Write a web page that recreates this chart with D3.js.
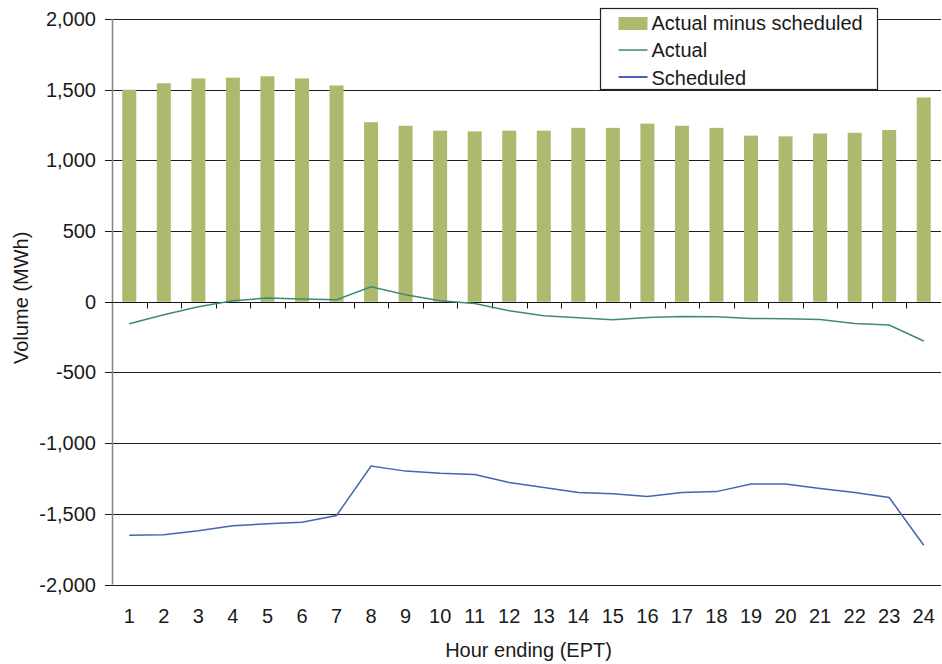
<!DOCTYPE html>
<html>
<head>
<meta charset="utf-8">
<script src="https://cdn.jsdelivr.net/npm/d3@7"></script>
<style>
  html, body { margin: 0; padding: 0; background: #fff; }
  svg { display: block; font-family: "Liberation Sans", Arial, sans-serif; }
</style>
</head>
<body>
<svg id="chart" width="942" height="664"></svg>
<script>
// Hourly volumes (MWh) by hour ending, EPT
const hours = d3.range(1, 25);
const actualMinusScheduled = [1500, 1545, 1580, 1585, 1595, 1580, 1530, 1270, 1245, 1210, 1205, 1210,
                              1210, 1230, 1230, 1260, 1245, 1230, 1175, 1170, 1190, 1195, 1215, 1445];
const actual = [-155, -92, -35, 7, 26, 20, 15, 106, 50, 7, -12, -64,
                -99, -113, -127, -111, -104, -106, -118, -120, -125, -153, -165, -278];
const scheduled = [-1652, -1648, -1620, -1585, -1570, -1560, -1512, -1162, -1198, -1213, -1222, -1279,
                   -1314, -1350, -1358, -1378, -1350, -1343, -1290, -1290, -1321, -1350, -1385, -1722];
const yTicks = [-2000, -1500, -1000, -500, 0, 500, 1000, 1500, 2000];
const legendItems = ["Actual minus scheduled", "Actual", "Scheduled"];

const colors = { bar: "#adba6e", actual: "#3f8b70", scheduled: "#4465b2" };

const svg = d3.select("#chart");
const margin = { left: 112, right: 1 };
const W = 942;
const xBand = d3.scaleBand().domain(hours).range([margin.left, W - margin.right]);
const y = d3.scaleLinear().domain([-2000, 2000]).range([584.5, 19]);
// thousands separator with a plain hyphen for negatives
const fmt = d => (d < 0 ? "-" : "") + d3.format(",")(Math.abs(d));
const FS = 20;

// Horizontal gridlines with outward tick marks on the value axis
svg.append("g").selectAll("line").data(yTicks).join("line")
  .attr("x1", margin.left - 7).attr("x2", W - margin.right)
  .attr("y1", d => Math.round(y(d)) + 0.5).attr("y2", d => Math.round(y(d)) + 0.5)
  .attr("stroke", "#1e1e1e").attr("stroke-width", 1.2);

// Value axis labels
svg.append("g").selectAll("text").data(yTicks).join("text")
  .attr("x", 96).attr("y", d => Math.round(y(d)) + 7)
  .attr("text-anchor", "end").attr("font-size", FS).attr("fill", "#1a1a1a")
  .text(d => fmt(d));

// Bars
svg.append("g").selectAll("rect").data(hours).join("rect")
  .attr("x", d => xBand(d) + xBand.bandwidth() / 2 - 7)
  .attr("width", 14)
  .attr("y", (d, i) => y(actualMinusScheduled[i]))
  .attr("height", (d, i) => y(0) - y(actualMinusScheduled[i]))
  .attr("fill", colors.bar);

// Vertical axis line
svg.append("line")
  .attr("x1", margin.left + 0.5).attr("x2", margin.left + 0.5)
  .attr("y1", y(2000)).attr("y2", y(-2000))
  .attr("stroke", "#858585").attr("stroke-width", 1.5);

// Category axis along zero with ticks at band boundaries
const zeroY = Math.round(y(0)) + 0.5;
svg.append("line")
  .attr("x1", margin.left - 7).attr("x2", W - margin.right)
  .attr("y1", zeroY).attr("y2", zeroY)
  .attr("stroke", "#111").attr("stroke-width", 1.2);
svg.append("g").selectAll("line").data(hours.slice(1)).join("line")
  .attr("x1", d => Math.round(xBand(d)) + 0.5).attr("x2", d => Math.round(xBand(d)) + 0.5)
  .attr("y1", zeroY).attr("y2", zeroY + 6)
  .attr("stroke", "#111").attr("stroke-width", 1);

// Category labels
svg.append("g").selectAll("text").data(hours).join("text")
  .attr("x", d => xBand(d) + xBand.bandwidth() / 2).attr("y", 623)
  .attr("text-anchor", "middle").attr("font-size", FS).attr("fill", "#1a1a1a")
  .text(d => d);

// Lines
const lineGen = arr => d3.line()
  .x((d, i) => xBand(hours[i]) + xBand.bandwidth() / 2)
  .y(d => y(d))(arr);
svg.append("path").attr("d", lineGen(actual))
  .attr("fill", "none").attr("stroke", colors.actual).attr("stroke-width", 1.5);
svg.append("path").attr("d", lineGen(scheduled))
  .attr("fill", "none").attr("stroke", colors.scheduled).attr("stroke-width", 1.5);

// Axis titles
svg.append("text").attr("x", (margin.left + W - margin.right) / 2 + 2).attr("y", 657)
  .attr("text-anchor", "middle").attr("font-size", FS).attr("fill", "#1a1a1a")
  .text("Hour ending (EPT)");
svg.append("text")
  .attr("transform", `translate(28, ${(y(2000) + y(-2000)) / 2 - 4}) rotate(-90)`)
  .attr("text-anchor", "middle").attr("font-size", FS).attr("fill", "#1a1a1a")
  .text("Volume (MWh)");

// Legend
const lg = svg.append("g").attr("transform", "translate(600.5, 8.5)");
lg.append("rect").attr("width", 277).attr("height", 81)
  .attr("fill", "#fff").attr("stroke", "#222").attr("stroke-width", 1.2);
lg.append("rect").attr("x", 18).attr("y", 8.5).attr("width", 29).attr("height", 13).attr("fill", colors.bar);
lg.append("line").attr("x1", 18).attr("x2", 47).attr("y1", 41.5).attr("y2", 41.5)
  .attr("stroke", "#6fa596").attr("stroke-width", 2);
lg.append("line").attr("x1", 18).attr("x2", 47).attr("y1", 68.5).attr("y2", 68.5)
  .attr("stroke", colors.scheduled).attr("stroke-width", 2);
lg.selectAll("text").data(legendItems).join("text")
  .attr("x", 51).attr("y", (d, i) => 21 + i * 27.5)
  .attr("font-size", FS).attr("fill", "#1a1a1a")
  .text(d => d);
</script>
</body>
</html>
